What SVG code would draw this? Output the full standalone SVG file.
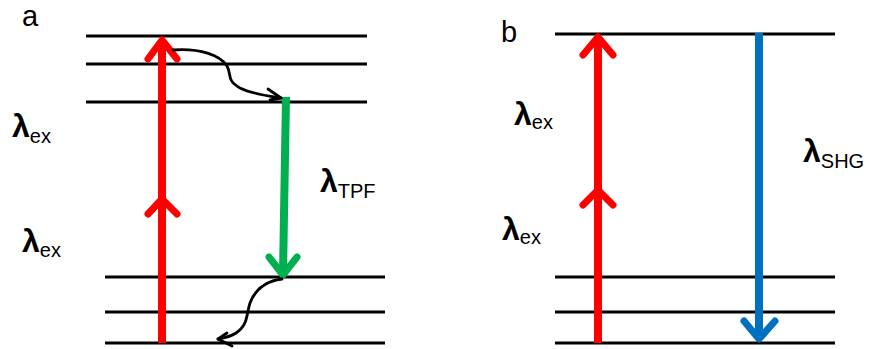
<svg xmlns="http://www.w3.org/2000/svg" width="869" height="349" viewBox="0 0 869 349">
<style>
.lvl{stroke:#000;stroke-width:3;fill:none}
.shaft{stroke-width:8;fill:none}
.chev{stroke-width:7;fill:none;stroke-linecap:round;stroke-linejoin:round}
.red{stroke:#FF0000}
.green{stroke:#00B050}
.blue{stroke:#0070C0}
.wave{stroke:#000;stroke-width:2.8;fill:none;stroke-linecap:round;stroke-linejoin:round}
text{font-family:"Liberation Sans",Arial,sans-serif;fill:#000}
.lam{font-size:32px;font-weight:bold}
.sub{font-size:20px}
.pl{font-size:29px}
</style>
<rect width="869" height="349" fill="#fff"/>
<g id="panel-a">
  <g id="a-levels">
    <line class="lvl" x1="86" y1="36" x2="367" y2="36"/>
    <line class="lvl" x1="86" y1="64" x2="367" y2="64"/>
    <line class="lvl" x1="86" y1="102" x2="367" y2="102"/>
    <line class="lvl" x1="105" y1="277" x2="385" y2="277"/>
    <line class="lvl" x1="105" y1="312" x2="385" y2="312"/>
    <line class="lvl" x1="105" y1="343" x2="385" y2="343"/>
  </g>
  <text class="pl" x="22" y="26">a</text>
  <text x="12" y="137"><tspan class="lam">λ</tspan><tspan class="sub" dy="6">ex</tspan></text>
  <text x="22" y="252"><tspan class="lam">λ</tspan><tspan class="sub" dy="5">ex</tspan></text>
  <text x="320" y="192"><tspan class="lam">λ</tspan><tspan class="sub" dy="6">TPF</tspan></text>
</g>
<g id="panel-b">
  <g id="b-levels">
    <line class="lvl" x1="555" y1="34" x2="835" y2="34"/>
    <line class="lvl" x1="555" y1="277" x2="835" y2="277"/>
    <line class="lvl" x1="555" y1="312" x2="835" y2="312"/>
    <line class="lvl" x1="555" y1="343" x2="835" y2="343"/>
  </g>
  <text class="pl" x="501" y="42">b</text>
  <text x="514" y="125"><tspan class="lam">λ</tspan><tspan class="sub" dy="4">ex</tspan></text>
  <text x="502" y="240"><tspan class="lam">λ</tspan><tspan class="sub" dy="4">ex</tspan></text>
  <text x="803" y="162"><tspan class="lam">λ</tspan><tspan class="sub" dy="6">SHG</tspan></text>
</g>
<g id="connectors">
  <line class="shaft red" x1="162" y1="343" x2="162" y2="40"/>
  <polyline class="chev red" points="148,59 162,40 177,59"/>
  <polyline class="chev red" points="148,214 162,199 177,214"/>
  <line class="shaft green" x1="286" y1="97" x2="283" y2="274"/>
  <polyline class="chev green" points="269,257 283,275 297,257"/>
  <path class="wave" d="M173,50 C200,48 220,55 227,66 C232,75 226,80 240,88 C252,94 268,96 281,98"/>
  <polyline class="wave" points="268,89 281,98 270,100"/>
  <path class="wave" d="M282,279 C265,281 255,290 250,303 C246,316 248,325 236,333 C230,337 224,338 218,339"/>
  <polyline class="wave" points="227,333 218,339 232,346"/>
  <line class="shaft red" x1="598" y1="343" x2="598" y2="38"/>
  <polyline class="chev red" points="583,55 598,37 613,55"/>
  <polyline class="chev red" points="583,205 598,190 613,205"/>
  <line class="shaft blue" x1="759" y1="33" x2="759" y2="338"/>
  <polyline class="chev blue" points="744,321 759,339 775,321"/>
</g>
</svg>
